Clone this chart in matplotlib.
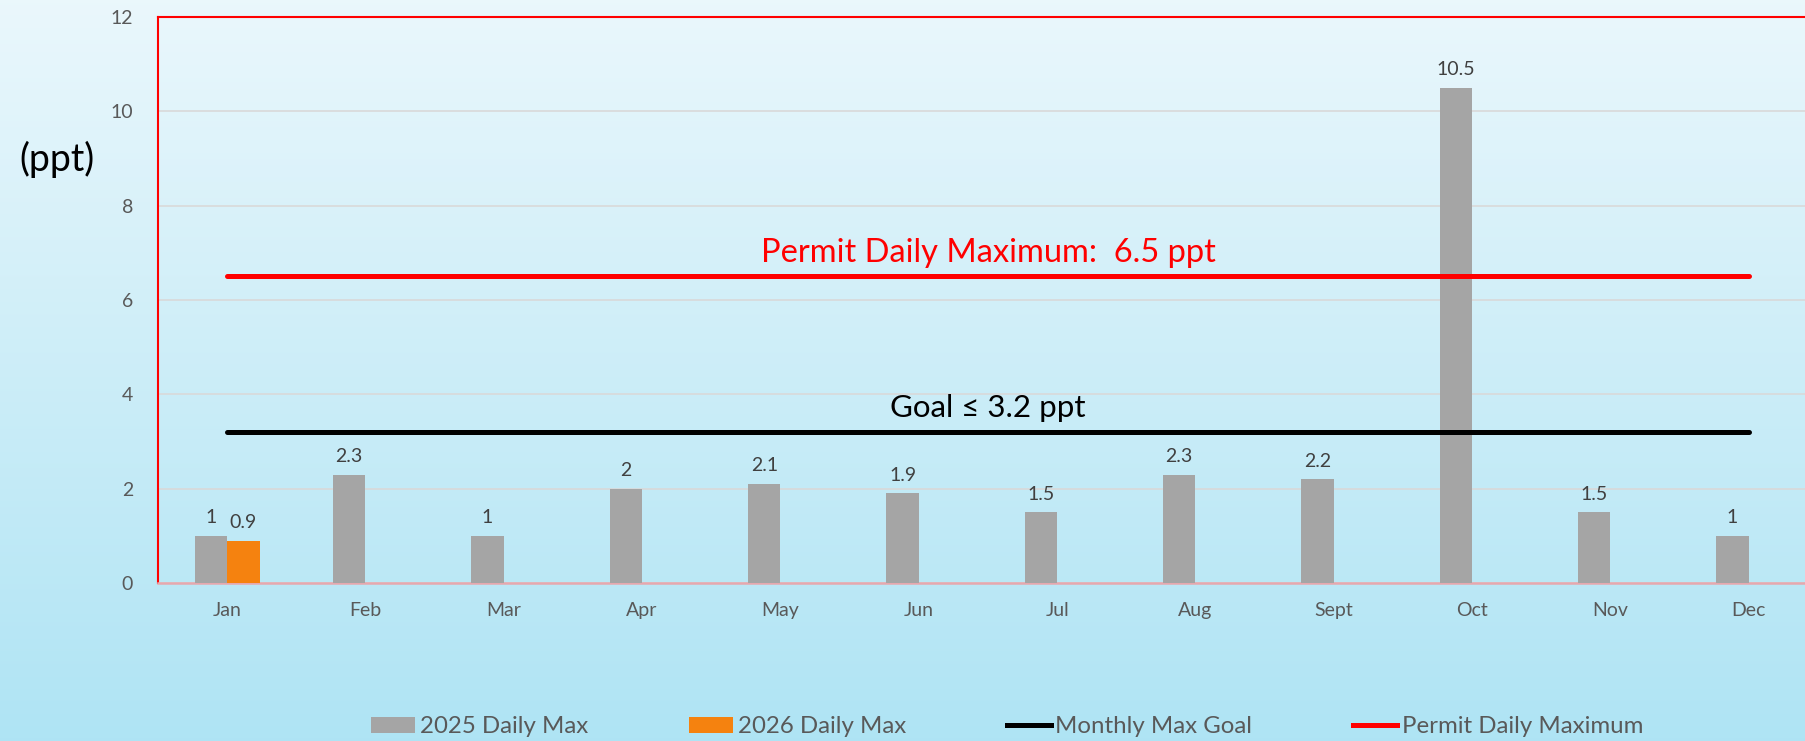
import numpy as np
import matplotlib.pyplot as plt
from matplotlib.patches import Patch
from matplotlib.lines import Line2D

plt.rcParams['font.family'] = ['Lato', 'DejaVu Sans']

months = ['Jan', 'Feb', 'Mar', 'Apr', 'May', 'Jun', 'Jul', 'Aug', 'Sept', 'Oct', 'Nov', 'Dec']
max_2025 = [1, 2.3, 1, 2, 2.1, 1.9, 1.5, 2.3, 2.2, 10.5, 1.5, 1]
max_2026 = [0.9]
goal = 3.2
permit = 6.5

fig = plt.figure(figsize=(18.05, 7.41), dpi=100)

# background gradient
bg = fig.add_axes([0, 0, 1, 1], zorder=-10)
grad = np.linspace(0, 1, 256).reshape(-1, 1)
top = np.array([0.918, 0.969, 0.988])
bot = np.array([0.686, 0.894, 0.957])
img = top + (bot - top) * grad[:, :, None]
bg.imshow(img, aspect='auto', extent=[0, 1, 0, 1])
bg.axis('off')

ax = fig.add_axes([0.0875, 0.2132, 0.9197, 0.7638])
ax.patch.set_alpha(0)

x = np.arange(len(months))
w = 0.235
ax.bar(x - w / 2, max_2025, width=w, color='#a5a5a5', zorder=3)
x26 = x[:len(max_2026)]
ax.bar(x26 + w / 2, max_2026, width=w, color='#f5820f', zorder=3)

for xi, v in zip(x, max_2025):
    ax.annotate(f'{v:g}', (xi - w / 2, v), xytext=(0, 7), textcoords='offset points',
                ha='center', va='bottom', fontsize=14, color='#404040', zorder=5)
for xi, v in zip(x26, max_2026):
    ax.annotate(f'{v:g}', (xi + w / 2, v), xytext=(0, 7), textcoords='offset points',
                ha='center', va='bottom', fontsize=14, color='#404040', zorder=5)

ax.plot([x[0], x[-1]], [goal, goal], color='black', lw=3.6, solid_capstyle='round', zorder=4)
ax.plot([x[0], x[-1]], [permit, permit], color='#ff0000', lw=3.6, solid_capstyle='round', zorder=4)

mid = (x[0] + x[-1]) / 2
ax.text(mid, permit + 0.3, 'Permit Daily Maximum:  6.5 ppt', color='#ff0000',
        fontsize=23.5, ha='center', va='baseline')
ax.text(mid, goal + 0.33, 'Goal \u2264 3.2 ppt', color='black',
        fontsize=22.5, ha='center', va='baseline')

ax.set_xlim(-0.5, 11.5)
ax.set_ylim(0, 12)
ax.set_yticks(np.arange(0, 13, 2))
ax.set_xticks(x)
ax.set_xticklabels(months)
ax.tick_params(axis='both', length=0, labelsize=14, labelcolor='#595959')
ax.tick_params(axis='x', pad=14)
ax.tick_params(axis='y', pad=18)
ax.grid(axis='y', color='#d9d9d9', lw=1.2, zorder=0)

ax.spines['right'].set_visible(False)
ax.spines['left'].set_color('#ff0000')
ax.spines['left'].set_linewidth(1.5)
ax.spines['top'].set_color('#ff0000')
ax.spines['top'].set_linewidth(1.5)
ax.spines['bottom'].set_color('#e6a8ae')
ax.spines['bottom'].set_linewidth(1.8)

fig.text(0.0316, 0.785, '(ppt)', fontsize=27, ha='center', va='center', color='black')

handles = [
    Patch(facecolor='#a5a5a5', label='2025 Daily Max'),
    Patch(facecolor='#f5820f', label='2026 Daily Max'),
    Line2D([], [], color='black', lw=3.6, label='Monthly Max Goal'),
    Line2D([], [], color='#ff0000', lw=3.6, label='Permit Daily Maximum'),
]
leg = fig.legend(handles=handles, loc='center', bbox_to_anchor=(0.558, 0.019), ncol=4,
                 frameon=False, fontsize=17.3, handlelength=1.83, handleheight=0.62,
                 handletextpad=0.2, columnspacing=4.2)
for t in leg.get_texts():
    t.set_color('#595959')

fig.savefig('out.png', dpi=100)
